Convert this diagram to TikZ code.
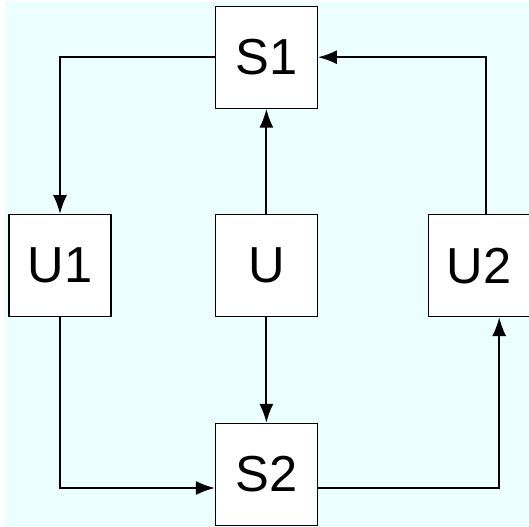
\documentclass[tikz,border=0pt]{standalone}
\usepackage{fontspec}
\setmainfont{Liberation Sans}
\usetikzlibrary{arrows.meta}

\definecolor{paleaqua}{RGB}{236,255,255}

\begin{document}
\begin{tikzpicture}[>/.tip={Latex[length=13.5pt,width=10pt]},
	block/.style={draw,fill=white,shape=rectangle,minimum size=2.55cm,inner sep=0pt,line width=0.8pt,font=\fontsize{36}{40}\selectfont},
	link/.style={line width=1.4pt}]
	\clip (0,0) rectangle (13.225,-13.175);
	\fill[paleaqua] (0.125,-0.05) rectangle (13.225,-13.175);

	\draw (6.66,-1.43) node (S1) [block] {S1};
	\draw (1.5,-6.64) node (U1) [block] {U1};
	\draw (6.66,-6.64) node (U) [block] {U};
	\draw (11.98,-6.64) node (U2) [block] {U2};
	\draw (6.66,-11.86) node (S2) [block] {S2};

	\draw[->,link] (S1.west) -| (U1.north);
	\draw[->,link] (U1.south) |- ([yshift=-0.34cm]S2.west);
	\draw[->,link] ([yshift=-0.34cm]S2.east) -| ([xshift=0.5cm]U2.south);
	\draw[->,link] ([xshift=0.175cm]U2.north) |- (S1.east);
	\draw[->,link] (U) -- (S1);
	\draw[->,link] (U) -- (S2);
\end{tikzpicture}
\end{document}
